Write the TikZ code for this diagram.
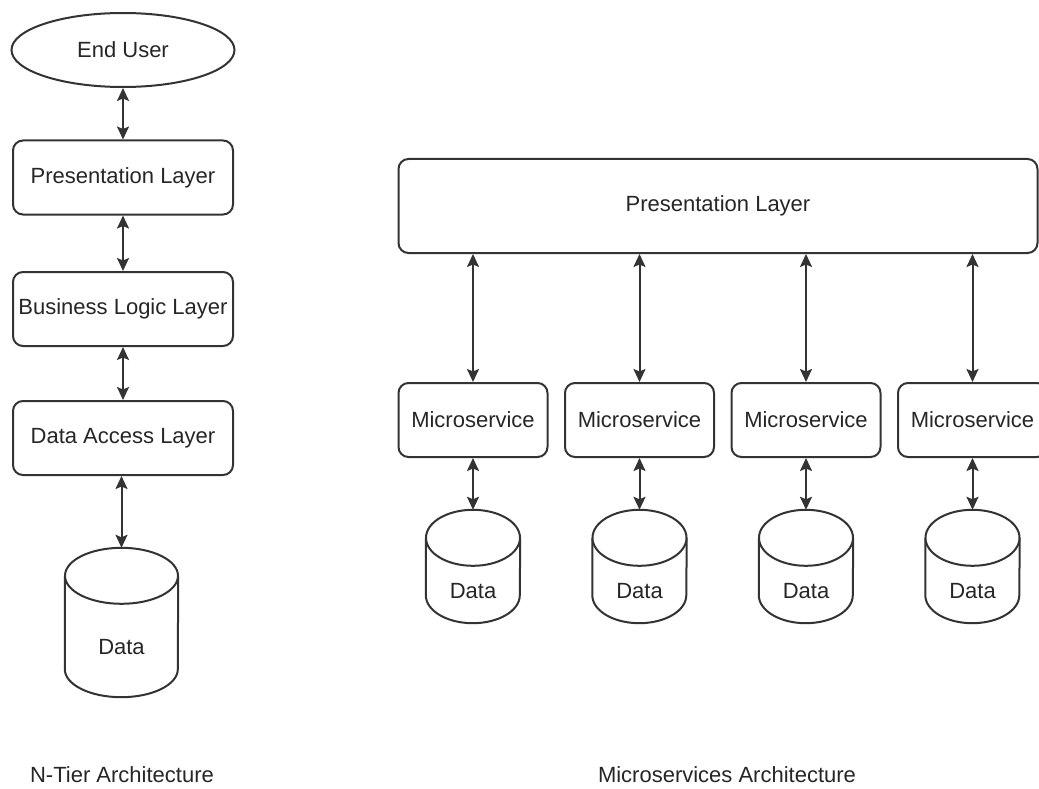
\documentclass[tikz,border=0pt]{standalone}
\usepackage{fontspec}
\setmainfont{Liberation Sans}
\usetikzlibrary{arrows.meta,shapes.geometric,backgrounds}
\definecolor{ln}{HTML}{333333}
\definecolor{tx}{HTML}{262626}
\newcommand{\drawcyl}[3]{%
  \begin{pgfonlayer}{background}
  \fill[white] ([yshift=-#3pt]#1.north west) -- ([yshift=#3pt]#1.south west)
     arc[start angle=180,end angle=360,x radius=#2,y radius=#3] -- ([yshift=-#3pt]#1.north east) -- cycle;
  \draw[cylline] ([yshift=-#3pt]#1.north west) -- ([yshift=#3pt]#1.south west)
     arc[start angle=180,end angle=360,x radius=#2,y radius=#3] -- ([yshift=-#3pt]#1.north east);
  \draw[cylline,fill=white] ([yshift=-#3pt]#1.north) ellipse[x radius=#2,y radius=#3];
  \end{pgfonlayer}
}
\tikzset{
  base/.style={font=\fontsize{22}{26}\selectfont, text=tx, inner sep=0pt},
  box/.style={base, draw=ln, line width=2pt, rounded corners=10pt, fill=white, minimum height=74pt},
  cylline/.style={draw=ln, line width=2pt},
  cylnode/.style={base, draw=none, minimum width=#1},
  tip/.style={},
  arr/.style={draw=ln, line width=2pt, {Stealth[length=13pt,width=12pt,inset=2.5pt]}-{Stealth[length=13pt,width=12pt,inset=2.5pt]}},
  lbl/.style={base}
}
\begin{document}
\begin{tikzpicture}[x=1pt,y=1pt]
\clip (0,0) rectangle (1039,-789);
\begin{pgfonlayer}{background}
\fill[white] (0,0) rectangle (1039,-789);
\end{pgfonlayer}
% N-tier
\node[base, draw=ln, line width=2pt, fill=white, ellipse, minimum width=223pt, minimum height=74pt] (eu) at (123,-50) {End User};
\node[box, minimum width=220pt] (pl) at (123,-177.5) {Presentation Layer};
\node[box, minimum width=220pt] (bl) at (123,-309) {Business Logic Layer};
\node[box, minimum width=220pt] (da) at (123,-438) {Data Access Layer};
\node[cylnode=113pt, minimum height=149pt] (d0) at (121.5,-622.5) {\raisebox{-32pt}[0pt][0pt]{Data}};
\drawcyl{d0}{56.5}{28}
\draw[arr] (eu.south) -- (pl.north);
\draw[arr] (pl.south) -- (bl.north);
\draw[arr] (bl.south) -- (da.north);
\draw[arr] (da.south -| d0.north) -- (d0.north);
\node[lbl] (t1) at (122,-775) {N-Tier Architecture};
% Microservices
\node[box, minimum width=639pt, minimum height=94pt] (pr) at (718,-206) {Presentation Layer};
\foreach \i/\x in {1/473,2/639.5,3/806,4/972.5}{
  \node[box, minimum width=149pt] (m\i) at (\x,-420) {Microservice};
  \node[cylnode=94pt, minimum height=113pt] (c\i) at (\x,-566.5) {\raisebox{-31.5pt}[0pt][0pt]{Data}};
  \drawcyl{c\i}{47}{28}
  \draw[arr] (pr.south -| m\i.north) -- (m\i.north);
  \draw[arr] (m\i.south) -- (c\i.north);
}
\node[lbl] (t2) at (727,-775) {Microservices Architecture};
\end{tikzpicture}
\end{document}
